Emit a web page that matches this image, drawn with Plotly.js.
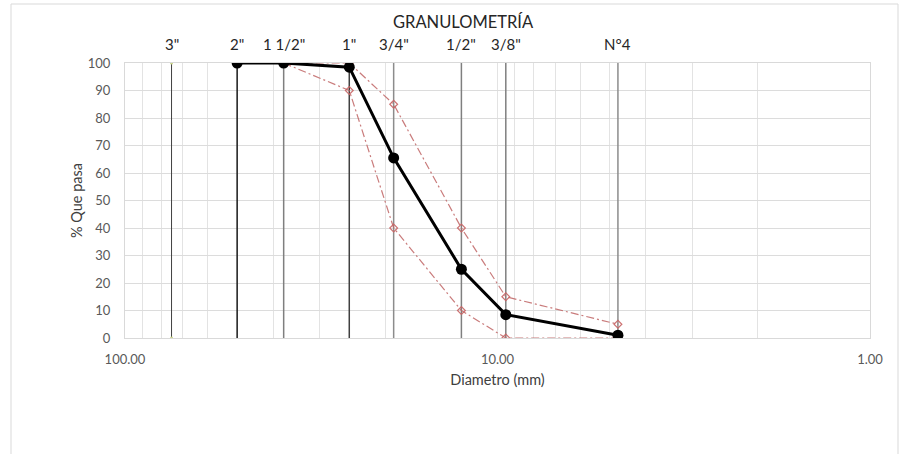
<!DOCTYPE html>
<html><head><meta charset="utf-8">
<script src="https://cdn.plot.ly/plotly-3.0.1.min.js"></script>
<style>html,body{margin:0;padding:0;background:#fff}#chart{width:906px;height:454px}</style>
</head><body><div id="chart"></div>
<script>
// Sieve data
const sieveLabels = ['3"', '2"', '1 1/2"', '1"', '3/4"', '1/2"', '3/8"', 'N°4'];
const sieveSizes = [75, 50, 37.5, 25, 19, 12.5, 9.5, 4.75];
// Sample curve
const sampleSizes = [50, 37.5, 25, 19, 12.5, 9.5, 4.75];
const samplePass = [100, 100, 98.5, 65.5, 25, 8.5, 1];
// Specification limits
const limitSizes = [37.5, 25, 19, 12.5, 9.5, 4.75];
const upperPass = [100, 100, 85, 40, 15, 5];
const lowerPass = [100, 90, 40, 10, 0, 0];
// Axis ticks
const xGridVals = [1,2,3,4,5,6,7,8,9,10,20,30,40,50,60,70,80,90,100];
const xLabelVals = [1, 10, 100];
const yTicks = [0,10,20,30,40,50,60,70,80,90,100];

const sieveColors = ['#404040','#1a1a1a','#7f7f7f','#404040','#8c8c8c','#7f7f7f','#7f7f7f','#8c8c8c'];
const FONT = 'Lato, "Open Sans", sans-serif';

const traces = [];
sieveSizes.forEach((s, i) => {
  traces.push({
    x: [s, s], y: [0, 100], mode: i === 0 ? 'lines+markers' : 'lines',
    line: {color: sieveColors[i], width: i === 0 ? 1 : 1.5},
    marker: {color: '#c9d48a', size: 3},
    hoverinfo: 'skip', showlegend: false
  });
});
const limitStyle = {
  mode: 'lines+markers',
  line: {color: 'rgba(192,100,100,0.85)', width: 1.2, dash: '8px,3px,2px,3px'},
  marker: {symbol: 'diamond-open', size: 6, color: 'rgba(200,100,100,0.9)', line: {width: 1.2}},
  showlegend: false
};
traces.push(Object.assign({x: limitSizes, y: upperPass}, limitStyle));
traces.push(Object.assign({x: limitSizes, y: lowerPass}, limitStyle));
traces.push({
  x: sampleSizes, y: samplePass, mode: 'lines+markers',
  line: {color: '#000000', width: 3},
  marker: {symbol: 'circle', size: 11, color: '#000000'},
  showlegend: false
});

const annotations = sieveSizes.map((s, i) => ({
  x: Math.log10(s), y: 1.068, xref: 'x', yref: 'paper', yanchor: 'middle',
  text: sieveLabels[i], showarrow: false,
  font: {family: FONT, size: 15, color: '#262626'}
}));
annotations.push({
  x: 0.4537, y: 1.149, xref: 'paper', yref: 'paper', xanchor: 'center', yanchor: 'middle',
  text: 'GRANULOMETRÍA', showarrow: false,
  font: {family: FONT, size: 16.5, color: '#262626'}
});

const layout = {
  width: 906, height: 454,
  margin: {l: 125, r: 36, t: 63, b: 116},
  paper_bgcolor: '#ffffff', plot_bgcolor: '#ffffff',
  font: {family: FONT, color: '#595959', size: 13},
  xaxis: {
    type: 'log', range: [2, 0],
    tickmode: 'array', tickvals: xGridVals,
    ticktext: xGridVals.map(v => xLabelVals.includes(v) ? v.toFixed(2) : ''),
    showgrid: true, gridcolor: '#e3e3e3', gridwidth: 1,
    zeroline: false, showline: true, linecolor: '#d9d9d9', mirror: true,
    ticks: 'outside', ticklen: 9, tickcolor: 'rgba(0,0,0,0)',
    tickfont: {family: FONT, size: 13, color: '#595959'},
    title: {text: 'Diametro (mm)', font: {family: FONT, size: 14.5, color: '#404040'}, standoff: 9}
  },
  yaxis: {
    range: [0, 100], tickmode: 'array', tickvals: yTicks,
    showgrid: true, gridcolor: '#dcdcdc', gridwidth: 1,
    zeroline: false, showline: true, linecolor: '#d9d9d9', mirror: true,
    ticks: 'outside', ticklen: 11, tickcolor: 'rgba(0,0,0,0)',
    tickfont: {family: FONT, size: 13, color: '#595959'},
    title: {text: '% Que pasa', font: {family: FONT, size: 14.5, color: '#404040'}, standoff: 1}
  },
  annotations: annotations,
  shapes: [{
    type: 'rect', xref: 'paper', yref: 'paper',
    x0: -0.153, x1: 1.0376, y0: -0.5, y1: 1.2145,
    line: {color: '#d9d9d9', width: 1}, fillcolor: 'rgba(0,0,0,0)', layer: 'below'
  }]
};

Plotly.newPlot('chart', traces, layout, {displayModeBar: false, staticPlot: true});
</script></body></html>
